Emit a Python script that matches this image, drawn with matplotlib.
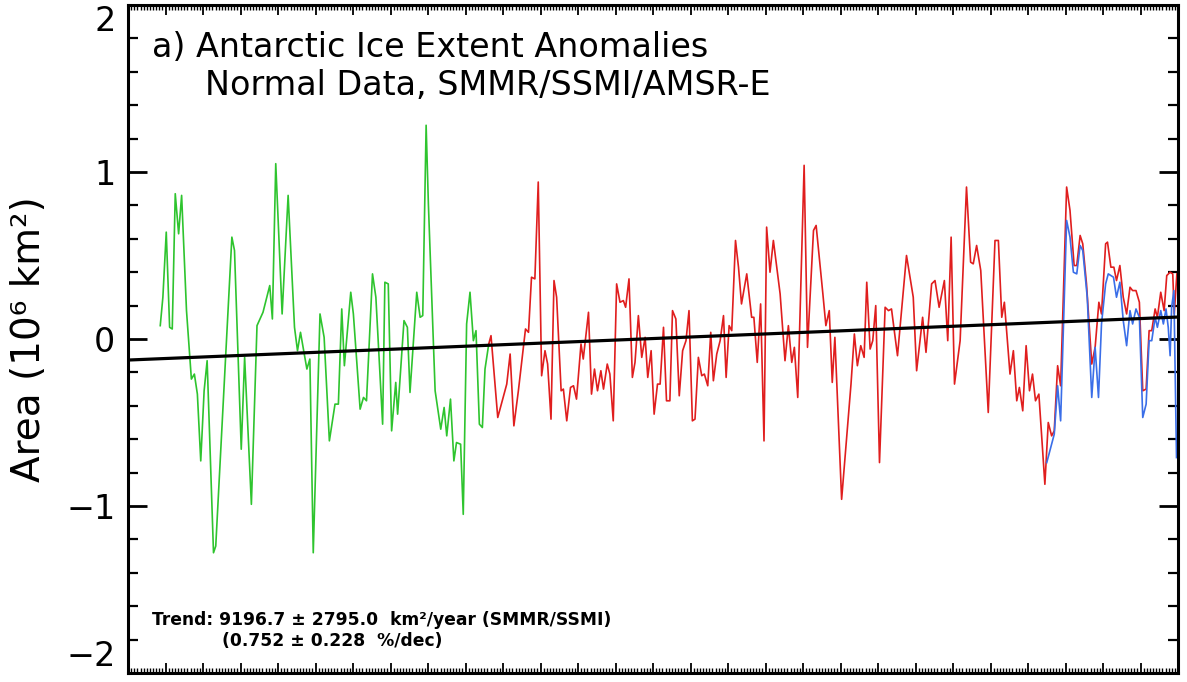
import numpy as np
import matplotlib
matplotlib.use("Agg")
import matplotlib.pyplot as plt
from matplotlib.ticker import MultipleLocator

# SMMR (green) anomalies, 10^6 km^2
smmr_t = [1978.86, 1978.93, 1979.02, 1979.11, 1979.18, 1979.26, 1979.35, 1979.43, 1979.56, 1979.69,
          1979.77, 1979.85, 1979.94, 1980.03, 1980.11, 1980.28, 1980.34, 1980.77, 1980.84, 1981.02,
          1981.11, 1981.29, 1981.44, 1981.60, 1981.78, 1981.85, 1981.94, 1982.11, 1982.27, 1982.44,
          1982.52, 1982.60, 1982.77, 1982.85, 1982.94, 1983.12, 1983.23, 1983.37, 1983.52, 1983.61,
          1983.70, 1983.77, 1983.94, 1984.01, 1984.19, 1984.28, 1984.36, 1984.52, 1984.61, 1984.79,
          1984.85, 1984.94, 1985.03, 1985.14, 1985.19, 1985.36, 1985.45, 1985.52, 1985.70, 1985.79,
          1985.86, 1985.95, 1986.01, 1986.19, 1986.34, 1986.43, 1986.50, 1986.60, 1986.69, 1986.76,
          1986.87, 1986.94, 1987.03, 1987.12, 1987.21, 1987.28, 1987.37, 1987.45, 1987.52, 1987.62]
smmr_v = [0.08, 0.25, 0.64, 0.07, 0.06, 0.87, 0.63, 0.86, 0.17, -0.24,
          -0.21, -0.33, -0.73, -0.31, -0.13, -1.28, -1.24, 0.61, 0.53, -0.66,
          -0.11, -0.99, 0.08, 0.16, 0.32, 0.12, 1.05, 0.15, 0.86, 0.07,
          -0.07, 0.04, -0.18, -0.12, -1.28, 0.15, 0.01, -0.61, -0.39, -0.39,
          0.18, -0.16, 0.28, 0.15, -0.42, -0.35, -0.37, 0.39, 0.25, -0.51,
          0.34, 0.33, -0.55, -0.26, -0.45, 0.11, 0.07, -0.32, 0.28, 0.13,
          0.14, 1.28, 0.81, -0.31, -0.54, -0.41, -0.58, -0.36, -0.73, -0.62,
          -0.63, -1.05, 0.09, 0.28, -0.01, 0.05, -0.51, -0.53, -0.18, -0.03]

# SSMI (red)
ssmi_t = [1987.62, 1987.68, 1987.86, 1988.10, 1988.19, 1988.29, 1988.41, 1988.60, 1988.68, 1988.76,
          1988.85, 1988.94, 1989.03, 1989.12, 1989.19, 1989.28, 1989.36, 1989.43, 1989.55, 1989.61,
          1989.70, 1989.80, 1989.88, 1989.96, 1990.08, 1990.14, 1990.28, 1990.36, 1990.44, 1990.52,
          1990.61, 1990.68, 1990.78, 1990.85, 1990.94, 1991.03, 1991.12, 1991.21, 1991.27, 1991.36,
          1991.45, 1991.52, 1991.61, 1991.70, 1991.79, 1991.86, 1991.95, 1992.03, 1992.12, 1992.19,
          1992.28, 1992.36, 1992.45, 1992.52, 1992.61, 1992.70, 1992.79, 1992.88, 1992.96, 1993.05,
          1993.12, 1993.21, 1993.30, 1993.37, 1993.46, 1993.54, 1993.61, 1993.70, 1993.79, 1993.88,
          1993.95, 1994.03, 1994.10, 1994.20, 1994.28, 1994.36, 1994.50, 1994.63, 1994.69, 1994.78,
          1994.87, 1994.96, 1995.03, 1995.12, 1995.21, 1995.39, 1995.52, 1995.61, 1995.70, 1995.77,
          1995.86, 1996.03, 1996.12, 1996.28, 1996.35, 1996.53, 1996.61, 1996.70, 1996.78, 1996.85,
          1997.03, 1997.28, 1997.37, 1997.45, 1997.54, 1997.63, 1997.70, 1997.79, 1997.86, 1997.94,
          1998.04, 1998.19, 1998.28, 1998.36, 1998.52, 1998.76, 1998.94, 1999.03, 1999.19, 1999.28,
          1999.43, 1999.52, 1999.63, 1999.77, 1999.86, 1999.95, 2000.04, 2000.19, 2000.36, 2000.47,
          2000.54, 2000.63, 2000.74, 2000.94, 2001.12, 2001.21, 2001.30, 2001.37, 2001.52, 2001.61,
          2001.70, 2001.77, 2001.86, 2001.95, 2002.04, 2002.12, 2002.20, 2002.29, 2002.45, 2002.54,
          2002.63, 2002.70, 2002.79, 2002.87, 2003.03, 2003.12, 2003.23, 2003.30, 2003.39, 2003.46,
          2003.56, 2003.70, 2003.79, 2003.89, 2003.96, 2004.07, 2004.12, 2004.21, 2004.29, 2004.36,
          2004.45, 2004.54, 2004.63, 2004.72, 2004.79, 2004.88, 2004.97, 2005.06, 2005.15, 2005.23,
          2005.30, 2005.39, 2005.45, 2005.54, 2005.63, 2005.70, 2005.79, 2005.86, 2005.90, 2005.97]
ssmi_v = [-0.03, 0.02, -0.47, -0.27, -0.09, -0.52, -0.31, 0.06, 0.04, 0.37,
          0.36, 0.94, -0.22, -0.07, -0.15, -0.48, 0.35, 0.25, -0.31, -0.30,
          -0.49, -0.29, -0.28, -0.36, -0.03, -0.12, 0.16, -0.33, -0.18, -0.31,
          -0.19, -0.30, -0.15, -0.21, -0.49, 0.33, 0.22, 0.23, 0.19, 0.36,
          -0.23, -0.14, 0.14, -0.11, 0.01, -0.23, -0.07, -0.45, -0.27, -0.27,
          0.07, -0.37, -0.37, 0.17, 0.12, -0.34, -0.07, -0.01, 0.17, -0.49,
          -0.48, -0.11, -0.22, -0.21, -0.28, 0.04, -0.25, -0.09, -0.01, 0.14,
          -0.23, 0.08, 0.05, 0.59, 0.43, 0.21, 0.39, 0.13, 0.13, -0.14,
          0.21, -0.61, 0.67, 0.40, 0.59, 0.27, -0.13, 0.08, -0.14, -0.05,
          -0.35, 1.04, -0.05, 0.65, 0.68, 0.27, 0.08, 0.17, -0.26, 0.01,
          -0.96, -0.27, 0.03, -0.16, -0.04, -0.11, 0.34, -0.06, -0.01, 0.20,
          -0.74, 0.19, 0.17, 0.18, -0.10, 0.50, 0.25, -0.19, 0.13, -0.08,
          0.33, 0.35, 0.19, 0.35, -0.01, 0.61, -0.27, -0.01, 0.91, 0.46,
          0.45, 0.56, 0.41, -0.44, 0.59, 0.59, 0.13, 0.22, -0.21, -0.07,
          -0.37, -0.29, -0.43, -0.04, -0.31, -0.21, -0.37, -0.33, -0.87, -0.50,
          -0.58, -0.55, -0.16, -0.28, 0.91, 0.77, 0.44, 0.44, 0.62, 0.57,
          0.33, -0.15, -0.05, 0.22, 0.15, 0.57, 0.58, 0.43, 0.43, 0.35,
          0.44, 0.25, 0.15, 0.31, 0.29, 0.29, 0.22, -0.31, -0.30, 0.05,
          0.05, 0.18, 0.13, 0.28, 0.17, 0.38, 0.40, 0.39, 0.15, 0.39]

# AMSR-E (blue)
amsr_t = [2002.50, 2002.70, 2002.79, 2002.87, 2003.03, 2003.12, 2003.21, 2003.30, 2003.39, 2003.46,
          2003.58, 2003.70, 2003.79, 2003.88, 2003.96, 2004.07, 2004.14, 2004.28, 2004.36, 2004.45,
          2004.54, 2004.63, 2004.72, 2004.79, 2004.88, 2004.97, 2005.06, 2005.15, 2005.23, 2005.30,
          2005.39, 2005.45, 2005.54, 2005.61, 2005.68, 2005.74, 2005.79, 2005.83, 2005.89, 2005.96]
amsr_v = [-0.74, -0.57, -0.28, -0.49, 0.71, 0.61, 0.40, 0.39, 0.56, 0.53,
          0.25, -0.35, -0.05, -0.35, 0.09, 0.33, 0.39, 0.37, 0.25, 0.34,
          0.11, -0.04, 0.17, 0.09, 0.18, 0.13, -0.47, -0.39, -0.01, -0.01,
          0.13, 0.07, 0.17, 0.09, 0.18, 0.07, -0.10, 0.19, 0.29, -0.71]

# linear trend (SMMR/SSMI)
trend_slope = 9196.7e-6      # 10^6 km^2 per year
trend_at_start = -0.126      # value at the left edge
year_range = [1978, 2006]

fig = plt.figure(figsize=(11.87, 6.82), dpi=100)
ax = fig.add_axes([128 / 1187, 9 / 682, 1050 / 1187, 668 / 682])

ax.plot(smmr_t, smmr_v, color='#2ec42e', lw=1.2)
ax.plot(ssmi_t, ssmi_v, color='#e01e1e', lw=1.2)
ax.plot(amsr_t, amsr_v, color='#3a6ee8', lw=1.2)

yrs = np.array(year_range, dtype=float)
ax.plot(yrs, trend_at_start + trend_slope * (yrs - yrs[0]), color='black', lw=2.3)

ax.set_xlim(*year_range)
ax.set_ylim(-2, 2)

ax.xaxis.set_major_locator(MultipleLocator(1))
ax.xaxis.set_minor_locator(MultipleLocator(1 / 12))
ax.yaxis.set_major_locator(MultipleLocator(1))
ax.yaxis.set_minor_locator(MultipleLocator(0.2))

ax.tick_params(axis='x', which='major', direction='in', length=7, width=1.3,
               top=True, bottom=True, labelbottom=False)
ax.tick_params(axis='x', which='minor', direction='in', length=3.5, width=1.0,
               top=True, bottom=True)
ax.tick_params(axis='y', which='major', direction='in', length=14, width=2.0,
               left=True, right=True, labelsize=24, pad=9)
ax.tick_params(axis='y', which='minor', direction='in', length=7, width=1.6,
               left=True, right=True)
for sp in ax.spines.values():
    sp.set_linewidth(2.2)

ax.set_yticks([-2, -1, 0, 1, 2])
labs = ax.get_yticklabels()
labs[0].set_va('bottom')
labs[-1].set_va('top')

ax.set_ylabel('Area (10⁶ km²)', fontsize=28)
ax.yaxis.set_label_coords(-0.076, 0.5)

ax.text(0.023, 0.936, 'a) Antarctic Ice Extent Anomalies', transform=ax.transAxes,
        fontsize=24, va='center', ha='left')
ax.text(0.073, 0.880, 'Normal Data, SMMR/SSMI/AMSR-E', transform=ax.transAxes,
        fontsize=24, va='center', ha='left')

ax.text(0.023, 0.079, 'Trend: 9196.7 ± 2795.0  km²/year (SMMR/SSMI)', transform=ax.transAxes,
        fontsize=12.3, fontweight='bold', va='center', ha='left')
ax.text(0.090, 0.048, '(0.752 ± 0.228  %/dec)', transform=ax.transAxes,
        fontsize=12.3, fontweight='bold', va='center', ha='left')

fig.savefig('out.png', dpi=100)
